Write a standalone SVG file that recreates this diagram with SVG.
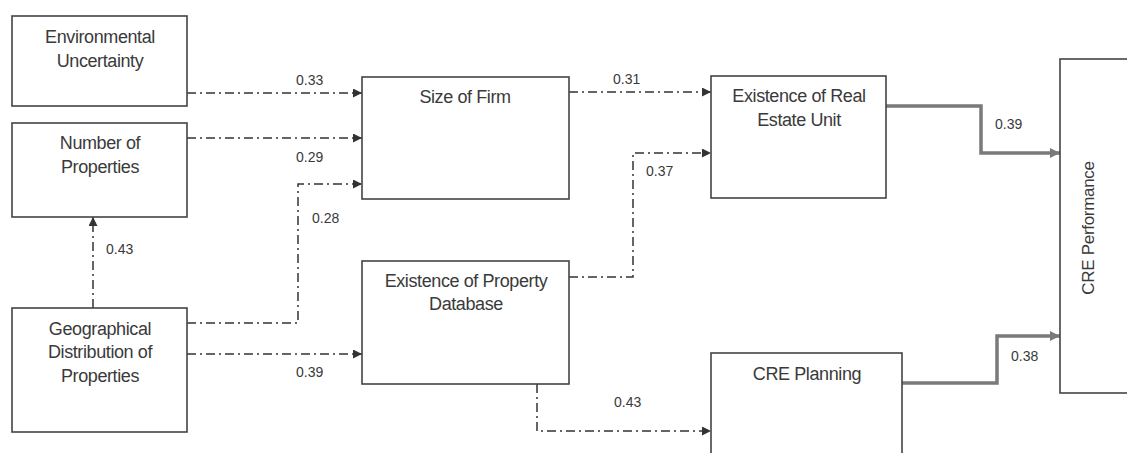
<svg xmlns="http://www.w3.org/2000/svg" width="1127" height="453" viewBox="0 0 1127 453">
<style>
.box{fill:#fff;stroke:#444;stroke-width:1.6}
.t{font-family:"Liberation Sans",Arial,sans-serif;font-size:18px;letter-spacing:-0.4px;fill:#3a3a3a;text-anchor:middle}
.l{font-family:"Liberation Sans",Arial,sans-serif;font-size:14px;fill:#3a3a3a}
.d{fill:none;stroke:#333;stroke-width:1.5;stroke-dasharray:9 4 2 4}
.s{fill:none;stroke:#7a7a7a;stroke-width:3.5}
</style>
<defs>
<marker id="ah" viewBox="0 0 10 10" refX="10" refY="5" markerWidth="10" markerHeight="9" markerUnits="userSpaceOnUse" orient="auto">
<path d="M0,0 L10,5 L0,10 z" fill="#333"/>
</marker>
<marker id="ahg" viewBox="0 0 10 10" refX="10" refY="5" markerWidth="12" markerHeight="10" markerUnits="userSpaceOnUse" orient="auto">
<path d="M0,0 L10,5 L0,10 z" fill="#7a7a7a"/>
</marker>
</defs>
<rect width="1127" height="453" fill="#fff"/>
<g id="connectors">
<path class="d" d="M187,93 H362" marker-end="url(#ah)"/>
<path class="d" d="M187,138 H362" marker-end="url(#ah)"/>
<path class="d" d="M187,323 H298 V184 H362" marker-end="url(#ah)"/>
<path class="d" d="M93,308 V217" marker-end="url(#ah)"/>
<path class="d" d="M187,354 H362" marker-end="url(#ah)"/>
<path class="d" d="M569,92 H711" marker-end="url(#ah)"/>
<path class="d" d="M569,277 H633 V153 H711" marker-end="url(#ah)"/>
<path class="d" d="M537,384 V431 H711" marker-end="url(#ah)"/>
<path class="s" d="M886,106 H981 V153 H1060" marker-end="url(#ahg)"/>
<path class="s" d="M902,383 H997 V336 H1060" marker-end="url(#ahg)"/>
<text class="l" x="296" y="85">0.33</text>
<text class="l" x="296" y="162">0.29</text>
<text class="l" x="312" y="223">0.28</text>
<text class="l" x="106" y="254">0.43</text>
<text class="l" x="296" y="377">0.39</text>
<text class="l" x="613" y="84">0.31</text>
<text class="l" x="646" y="176">0.37</text>
<text class="l" x="614" y="407">0.43</text>
<text class="l" x="995" y="129">0.39</text>
<text class="l" x="1011" y="361">0.38</text>
</g>
<g id="env">
<rect class="box" x="12" y="16" width="175" height="90"/>
<text class="t" x="100" y="43">Environmental</text>
<text class="t" x="100" y="67">Uncertainty</text>
</g>
<g id="num">
<rect class="box" x="12" y="123" width="175" height="94"/>
<text class="t" x="100" y="149">Number of</text>
<text class="t" x="100" y="173">Properties</text>
</g>
<g id="geo">
<rect class="box" x="12" y="308" width="175" height="124"/>
<text class="t" x="100" y="335">Geographical</text>
<text class="t" x="100" y="358">Distribution of</text>
<text class="t" x="100" y="382">Properties</text>
</g>
<g id="size">
<rect class="box" x="362" y="77" width="207" height="122"/>
<text class="t" x="465" y="103">Size of Firm</text>
</g>
<g id="db">
<rect class="box" x="362" y="261" width="207" height="123"/>
<text class="t" x="466" y="287">Existence of Property</text>
<text class="t" x="466" y="310">Database</text>
</g>
<g id="reu">
<rect class="box" x="711" y="76" width="175" height="122"/>
<text class="t" x="799" y="102">Existence of Real</text>
<text class="t" x="799" y="126">Estate Unit</text>
</g>
<g id="plan">
<rect class="box" x="711" y="353" width="191" height="110"/>
<text class="t" x="807" y="380">CRE Planning</text>
</g>
<g id="perf">
<rect class="box" x="1060" y="59" width="80" height="334"/>
<text class="t" x="0" y="0" style="font-size:17px;letter-spacing:-0.3px" transform="translate(1094,228) rotate(-90)">CRE Performance</text>
</g>
</svg>
